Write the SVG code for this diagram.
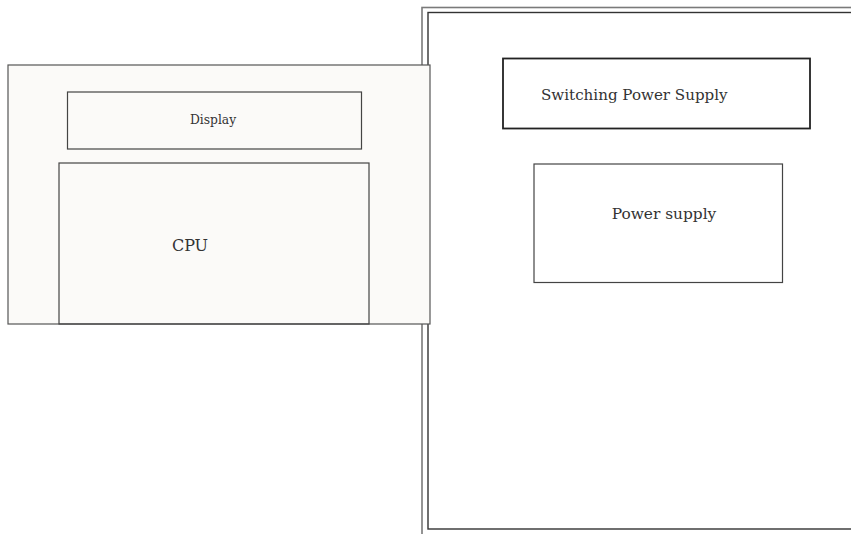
<svg xmlns="http://www.w3.org/2000/svg" width="851" height="534" viewBox="0 0 851 534">
<style>
text{font-family:"DejaVu Serif","Liberation Serif",serif;fill:#333}
.box{fill:none;stroke:#444;stroke-width:1.2}
</style>
<rect width="851" height="534" fill="#ffffff"/>
<g id="frame">
<rect x="422" y="7.5" width="440" height="540" fill="none" stroke="#7a7a7a" stroke-width="1.6"/>
<rect x="428" y="12.5" width="430" height="516.5" fill="none" stroke="#333" stroke-width="1.4"/>
</g>
<g id="panel">
<rect x="8" y="65" width="422" height="259" fill="#fbfaf8" stroke="#555" stroke-width="1.2"/>
</g>
<g id="display">
<rect class="box" x="67.5" y="92" width="294" height="57"/>
<text x="213" y="124" font-size="12.3" text-anchor="middle">Display</text>
</g>
<g id="cpu">
<rect class="box" x="59" y="163" width="310" height="161"/>
<text x="190" y="251" font-size="16" text-anchor="middle">CPU</text>
</g>
<g id="switching">
<rect x="503" y="58.5" width="307" height="70" fill="none" stroke="#222" stroke-width="1.8"/>
<text x="541" y="100" font-size="15.1">Switching Power Supply</text>
</g>
<g id="power">
<rect class="box" x="534" y="164" width="248.5" height="118.5"/>
<text x="664" y="219" font-size="15.4" text-anchor="middle">Power supply</text>
</g>
<g id="connectors"/>
</svg>
